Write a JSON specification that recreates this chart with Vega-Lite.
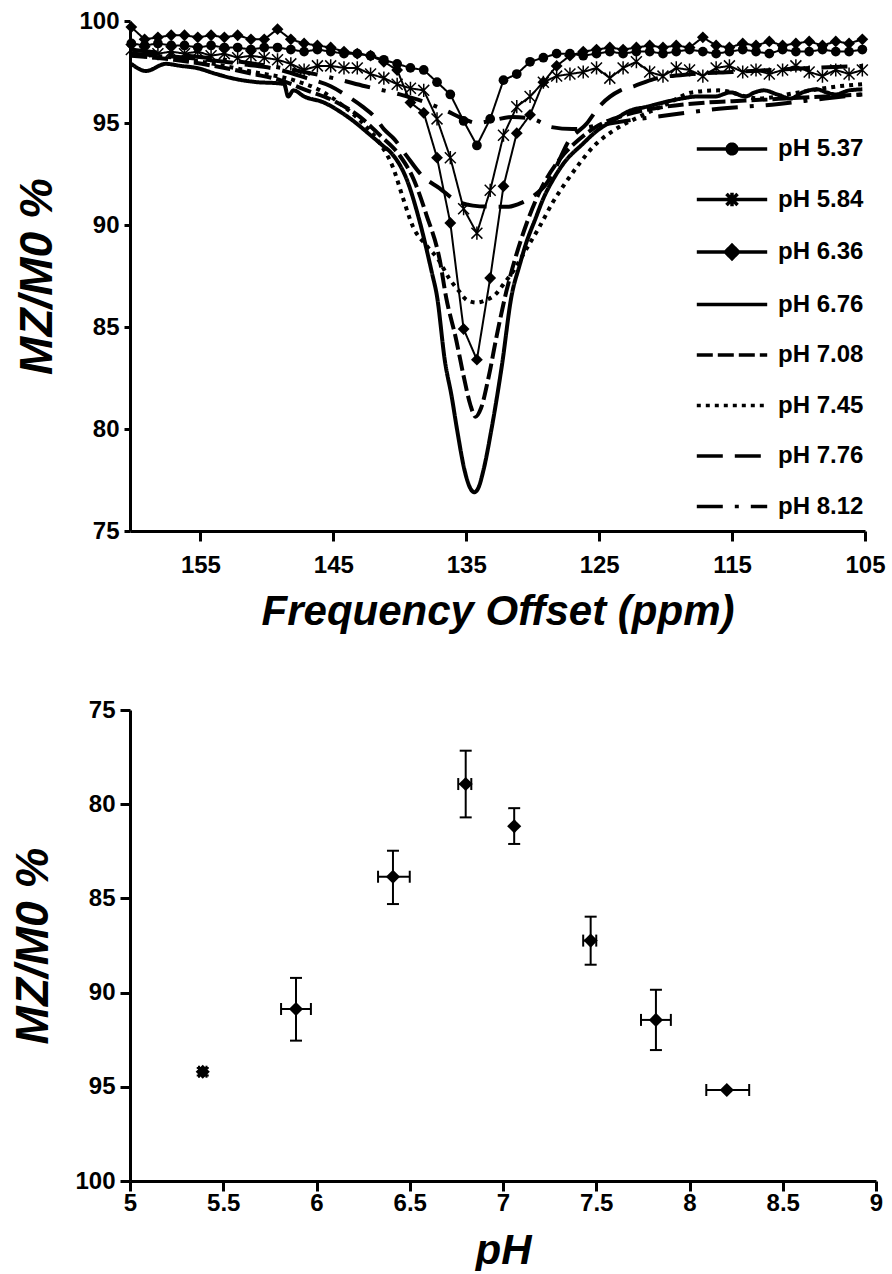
{
"$schema": "https://vega.github.io/schema/vega-lite/v6.json",
"padding": {"top": 9, "left": 10, "right": 0, "bottom": 0},
"spacing": 66,
"config": {
 "font": "Liberation Sans",
 "view": {"stroke": null},
 "axis": {"domainColor": "black", "domainWidth": 3, "tickColor": "black", "tickWidth": 3, "labelColor": "black", "labelFont": "Liberation Sans", "labelFontWeight": "bold", "titleColor": "black", "titleFont": "Liberation Sans", "titleFontWeight": "bold", "titleFontStyle": "italic", "grid": false, "labelFlush": false, "labelOverlap": false}
},
"datasets": {
 "spec": [
  {"s":"pH 5.37","p":160.2,"v":98.9},{"s":"pH 5.37","p":159.2,"v":98.8},{"s":"pH 5.37","p":158.2,"v":98.9},{"s":"pH 5.37","p":157.2,"v":98.8},{"s":"pH 5.37","p":156.2,"v":98.8},{"s":"pH 5.37","p":155.2,"v":98.7},{"s":"pH 5.37","p":154.2,"v":98.8},{"s":"pH 5.37","p":153.2,"v":98.7},{"s":"pH 5.37","p":152.2,"v":98.7},{"s":"pH 5.37","p":151.2,"v":98.6},{"s":"pH 5.37","p":150.2,"v":98.7},{"s":"pH 5.37","p":149.2,"v":98.7},{"s":"pH 5.37","p":148.2,"v":98.6},{"s":"pH 5.37","p":147.2,"v":98.5},{"s":"pH 5.37","p":146.2,"v":98.6},{"s":"pH 5.37","p":145.2,"v":98.5},{"s":"pH 5.37","p":144.2,"v":98.4},{"s":"pH 5.37","p":143.2,"v":98.4},{"s":"pH 5.37","p":142.2,"v":98.3},{"s":"pH 5.37","p":141.2,"v":98.1},{"s":"pH 5.37","p":140.2,"v":97.9},{"s":"pH 5.37","p":139.2,"v":97.7},{"s":"pH 5.37","p":138.2,"v":97.6},{"s":"pH 5.37","p":137.2,"v":97.0},{"s":"pH 5.37","p":136.2,"v":96.4},{"s":"pH 5.37","p":135.2,"v":95.1},{"s":"pH 5.37","p":134.2,"v":93.9},{"s":"pH 5.37","p":133.2,"v":95.2},{"s":"pH 5.37","p":132.2,"v":97.1},{"s":"pH 5.37","p":131.2,"v":97.4},{"s":"pH 5.37","p":130.2,"v":98.0},{"s":"pH 5.37","p":129.2,"v":98.2},{"s":"pH 5.37","p":128.2,"v":98.4},{"s":"pH 5.37","p":127.2,"v":98.4},{"s":"pH 5.37","p":126.2,"v":98.3},{"s":"pH 5.37","p":125.2,"v":98.4},{"s":"pH 5.37","p":124.2,"v":98.5},{"s":"pH 5.37","p":123.2,"v":98.4},{"s":"pH 5.37","p":122.2,"v":98.5},{"s":"pH 5.37","p":121.2,"v":98.5},{"s":"pH 5.37","p":120.2,"v":98.4},{"s":"pH 5.37","p":119.2,"v":98.5},{"s":"pH 5.37","p":118.2,"v":98.6},{"s":"pH 5.37","p":117.2,"v":98.5},{"s":"pH 5.37","p":116.2,"v":98.4},{"s":"pH 5.37","p":115.2,"v":98.5},{"s":"pH 5.37","p":114.2,"v":98.6},{"s":"pH 5.37","p":113.2,"v":98.5},{"s":"pH 5.37","p":112.2,"v":98.4},{"s":"pH 5.37","p":111.2,"v":98.6},{"s":"pH 5.37","p":110.2,"v":98.5},{"s":"pH 5.37","p":109.2,"v":98.5},{"s":"pH 5.37","p":108.2,"v":98.6},{"s":"pH 5.37","p":107.2,"v":98.5},{"s":"pH 5.37","p":106.2,"v":98.5},{"s":"pH 5.37","p":105.2,"v":98.6},
  {"s":"pH 5.84","p":160.2,"v":98.6},{"s":"pH 5.84","p":159.2,"v":98.5},{"s":"pH 5.84","p":158.2,"v":98.4},{"s":"pH 5.84","p":157.2,"v":98.5},{"s":"pH 5.84","p":156.2,"v":98.4},{"s":"pH 5.84","p":155.2,"v":98.5},{"s":"pH 5.84","p":154.2,"v":98.3},{"s":"pH 5.84","p":153.2,"v":98.4},{"s":"pH 5.84","p":152.2,"v":98.2},{"s":"pH 5.84","p":151.2,"v":98.3},{"s":"pH 5.84","p":150.2,"v":98.2},{"s":"pH 5.84","p":149.2,"v":98.1},{"s":"pH 5.84","p":148.2,"v":97.9},{"s":"pH 5.84","p":147.2,"v":97.6},{"s":"pH 5.84","p":146.2,"v":97.8},{"s":"pH 5.84","p":145.2,"v":97.8},{"s":"pH 5.84","p":144.2,"v":97.7},{"s":"pH 5.84","p":143.2,"v":97.7},{"s":"pH 5.84","p":142.2,"v":97.4},{"s":"pH 5.84","p":141.2,"v":97.2},{"s":"pH 5.84","p":140.2,"v":96.9},{"s":"pH 5.84","p":139.2,"v":96.7},{"s":"pH 5.84","p":138.2,"v":96.6},{"s":"pH 5.84","p":137.2,"v":95.2},{"s":"pH 5.84","p":136.2,"v":93.3},{"s":"pH 5.84","p":135.2,"v":90.8},{"s":"pH 5.84","p":134.2,"v":89.6},{"s":"pH 5.84","p":133.2,"v":91.7},{"s":"pH 5.84","p":132.2,"v":94.4},{"s":"pH 5.84","p":131.2,"v":95.8},{"s":"pH 5.84","p":130.2,"v":96.3},{"s":"pH 5.84","p":129.2,"v":97.0},{"s":"pH 5.84","p":128.2,"v":97.3},{"s":"pH 5.84","p":127.2,"v":97.4},{"s":"pH 5.84","p":126.2,"v":97.5},{"s":"pH 5.84","p":125.2,"v":97.7},{"s":"pH 5.84","p":124.2,"v":97.2},{"s":"pH 5.84","p":123.2,"v":97.7},{"s":"pH 5.84","p":122.2,"v":98.0},{"s":"pH 5.84","p":121.2,"v":97.5},{"s":"pH 5.84","p":120.2,"v":97.3},{"s":"pH 5.84","p":119.2,"v":97.7},{"s":"pH 5.84","p":118.2,"v":97.6},{"s":"pH 5.84","p":117.2,"v":97.3},{"s":"pH 5.84","p":116.2,"v":97.7},{"s":"pH 5.84","p":115.2,"v":97.8},{"s":"pH 5.84","p":114.2,"v":97.5},{"s":"pH 5.84","p":113.2,"v":97.6},{"s":"pH 5.84","p":112.2,"v":97.4},{"s":"pH 5.84","p":111.2,"v":97.6},{"s":"pH 5.84","p":110.2,"v":97.8},{"s":"pH 5.84","p":109.2,"v":97.5},{"s":"pH 5.84","p":108.2,"v":97.3},{"s":"pH 5.84","p":107.2,"v":97.6},{"s":"pH 5.84","p":106.2,"v":97.4},{"s":"pH 5.84","p":105.2,"v":97.6},
  {"s":"pH 6.36","p":160.2,"v":99.7},{"s":"pH 6.36","p":159.2,"v":99.1},{"s":"pH 6.36","p":158.2,"v":99.2},{"s":"pH 6.36","p":157.2,"v":99.3},{"s":"pH 6.36","p":156.2,"v":99.3},{"s":"pH 6.36","p":155.2,"v":99.2},{"s":"pH 6.36","p":154.2,"v":99.3},{"s":"pH 6.36","p":153.2,"v":99.2},{"s":"pH 6.36","p":152.2,"v":99.3},{"s":"pH 6.36","p":151.2,"v":99.1},{"s":"pH 6.36","p":150.2,"v":99.1},{"s":"pH 6.36","p":149.2,"v":99.6},{"s":"pH 6.36","p":148.2,"v":99.1},{"s":"pH 6.36","p":147.2,"v":98.9},{"s":"pH 6.36","p":146.2,"v":98.8},{"s":"pH 6.36","p":145.2,"v":98.7},{"s":"pH 6.36","p":144.2,"v":98.5},{"s":"pH 6.36","p":143.2,"v":98.4},{"s":"pH 6.36","p":142.2,"v":98.3},{"s":"pH 6.36","p":141.2,"v":98.0},{"s":"pH 6.36","p":140.2,"v":97.6},{"s":"pH 6.36","p":139.2,"v":96.0},{"s":"pH 6.36","p":138.2,"v":95.5},{"s":"pH 6.36","p":137.2,"v":93.3},{"s":"pH 6.36","p":136.2,"v":90.1},{"s":"pH 6.36","p":135.2,"v":84.9},{"s":"pH 6.36","p":134.2,"v":83.4},{"s":"pH 6.36","p":133.2,"v":87.4},{"s":"pH 6.36","p":132.2,"v":91.9},{"s":"pH 6.36","p":131.2,"v":94.5},{"s":"pH 6.36","p":130.2,"v":95.4},{"s":"pH 6.36","p":129.2,"v":97.0},{"s":"pH 6.36","p":128.2,"v":97.8},{"s":"pH 6.36","p":127.2,"v":98.3},{"s":"pH 6.36","p":126.2,"v":98.5},{"s":"pH 6.36","p":125.2,"v":98.6},{"s":"pH 6.36","p":124.2,"v":98.7},{"s":"pH 6.36","p":123.2,"v":98.6},{"s":"pH 6.36","p":122.2,"v":98.7},{"s":"pH 6.36","p":121.2,"v":98.8},{"s":"pH 6.36","p":120.2,"v":98.7},{"s":"pH 6.36","p":119.2,"v":98.8},{"s":"pH 6.36","p":118.2,"v":98.7},{"s":"pH 6.36","p":117.2,"v":99.2},{"s":"pH 6.36","p":116.2,"v":98.8},{"s":"pH 6.36","p":115.2,"v":98.7},{"s":"pH 6.36","p":114.2,"v":98.9},{"s":"pH 6.36","p":113.2,"v":98.8},{"s":"pH 6.36","p":112.2,"v":99.0},{"s":"pH 6.36","p":111.2,"v":98.8},{"s":"pH 6.36","p":110.2,"v":98.9},{"s":"pH 6.36","p":109.2,"v":99.0},{"s":"pH 6.36","p":108.2,"v":98.8},{"s":"pH 6.36","p":107.2,"v":99.0},{"s":"pH 6.36","p":106.2,"v":98.9},{"s":"pH 6.36","p":105.2,"v":99.1},
  {"s":"pH 6.76","p":160.2,"v":97.9},{"s":"pH 6.76","p":159.1,"v":97.55},{"s":"pH 6.76","p":157.6,"v":97.9},{"s":"pH 6.76","p":156.5,"v":97.8},{"s":"pH 6.76","p":155.3,"v":97.7},{"s":"pH 6.76","p":153.8,"v":97.4},{"s":"pH 6.76","p":152.3,"v":97.15},{"s":"pH 6.76","p":150.7,"v":97.0},{"s":"pH 6.76","p":149.2,"v":96.95},{"s":"pH 6.76","p":148.7,"v":96.9},{"s":"pH 6.76","p":148.4,"v":96.3},{"s":"pH 6.76","p":148.0,"v":96.6},{"s":"pH 6.76","p":147.2,"v":96.3},{"s":"pH 6.76","p":145.7,"v":96.0},{"s":"pH 6.76","p":144.6,"v":95.6},{"s":"pH 6.76","p":143.7,"v":95.2},{"s":"pH 6.76","p":142.2,"v":94.4},{"s":"pH 6.76","p":141.3,"v":93.9},{"s":"pH 6.76","p":140.6,"v":93.5},{"s":"pH 6.76","p":139.4,"v":92.1},{"s":"pH 6.76","p":138.6,"v":90.4},{"s":"pH 6.76","p":137.6,"v":87.7},{"s":"pH 6.76","p":137.2,"v":86.5},{"s":"pH 6.76","p":136.6,"v":83.3},{"s":"pH 6.76","p":136.1,"v":81.6},{"s":"pH 6.76","p":135.7,"v":80.0},{"s":"pH 6.76","p":135.1,"v":77.9},{"s":"pH 6.76","p":134.7,"v":77.1},{"s":"pH 6.76","p":134.4,"v":76.9},{"s":"pH 6.76","p":134.1,"v":77.1},{"s":"pH 6.76","p":133.7,"v":78.0},{"s":"pH 6.76","p":133.1,"v":80.0},{"s":"pH 6.76","p":132.3,"v":83.2},{"s":"pH 6.76","p":131.6,"v":86.5},{"s":"pH 6.76","p":131.0,"v":88.0},{"s":"pH 6.76","p":130.5,"v":89.1},{"s":"pH 6.76","p":129.8,"v":90.3},{"s":"pH 6.76","p":129.2,"v":91.3},{"s":"pH 6.76","p":128.4,"v":92.3},{"s":"pH 6.76","p":127.7,"v":93.0},{"s":"pH 6.76","p":126.2,"v":94.0},{"s":"pH 6.76","p":125.2,"v":94.6},{"s":"pH 6.76","p":124.0,"v":95.1},{"s":"pH 6.76","p":122.7,"v":95.6},{"s":"pH 6.76","p":121.4,"v":95.8},{"s":"pH 6.76","p":120.2,"v":96.0},{"s":"pH 6.76","p":118.8,"v":96.2},{"s":"pH 6.76","p":117.6,"v":96.3},{"s":"pH 6.76","p":116.3,"v":96.3},{"s":"pH 6.76","p":115.1,"v":96.5},{"s":"pH 6.76","p":114.0,"v":96.3},{"s":"pH 6.76","p":113.3,"v":96.5},{"s":"pH 6.76","p":112.6,"v":96.6},{"s":"pH 6.76","p":111.6,"v":96.4},{"s":"pH 6.76","p":110.6,"v":96.2},{"s":"pH 6.76","p":109.7,"v":96.5},{"s":"pH 6.76","p":108.6,"v":96.65},{"s":"pH 6.76","p":107.9,"v":96.5},{"s":"pH 6.76","p":107.2,"v":96.4},{"s":"pH 6.76","p":106.2,"v":96.6},{"s":"pH 6.76","p":105.2,"v":96.65},
  {"s":"pH 7.08","p":160.2,"v":98.3},{"s":"pH 7.08","p":157,"v":98.1},{"s":"pH 7.08","p":154,"v":97.8},{"s":"pH 7.08","p":151,"v":97.4},{"s":"pH 7.08","p":149,"v":97.1},{"s":"pH 7.08","p":147,"v":96.6},{"s":"pH 7.08","p":145,"v":96.1},{"s":"pH 7.08","p":143,"v":95.3},{"s":"pH 7.08","p":141.5,"v":94.4},{"s":"pH 7.08","p":140,"v":93.4},{"s":"pH 7.08","p":139,"v":92.3},{"s":"pH 7.08","p":138,"v":90.5},{"s":"pH 7.08","p":137,"v":88.3},{"s":"pH 7.08","p":136.5,"v":86.4},{"s":"pH 7.08","p":135.8,"v":84.5},{"s":"pH 7.08","p":135.2,"v":82.6},{"s":"pH 7.08","p":134.7,"v":81.2},{"s":"pH 7.08","p":134.3,"v":80.6},{"s":"pH 7.08","p":133.9,"v":81.0},{"s":"pH 7.08","p":133.3,"v":82.6},{"s":"pH 7.08","p":132.7,"v":84.6},{"s":"pH 7.08","p":132,"v":86.7},{"s":"pH 7.08","p":131.3,"v":88.4},{"s":"pH 7.08","p":130.5,"v":90.0},{"s":"pH 7.08","p":129.5,"v":91.6},{"s":"pH 7.08","p":128,"v":93.2},{"s":"pH 7.08","p":126.5,"v":94.2},{"s":"pH 7.08","p":125,"v":94.9},{"s":"pH 7.08","p":123,"v":95.4},{"s":"pH 7.08","p":120,"v":95.8},{"s":"pH 7.08","p":117,"v":96.0},{"s":"pH 7.08","p":114,"v":96.1},{"s":"pH 7.08","p":111,"v":96.2},{"s":"pH 7.08","p":108,"v":96.3},{"s":"pH 7.08","p":105.2,"v":96.4},
  {"s":"pH 7.45","p":160.2,"v":98.4},{"s":"pH 7.45","p":157,"v":98.2},{"s":"pH 7.45","p":154,"v":97.9},{"s":"pH 7.45","p":151,"v":97.5},{"s":"pH 7.45","p":148,"v":97.1},{"s":"pH 7.45","p":146,"v":96.6},{"s":"pH 7.45","p":144,"v":95.7},{"s":"pH 7.45","p":142.5,"v":94.8},{"s":"pH 7.45","p":141.5,"v":94.0},{"s":"pH 7.45","p":140.5,"v":92.8},{"s":"pH 7.45","p":139.8,"v":91.4},{"s":"pH 7.45","p":139,"v":89.9},{"s":"pH 7.45","p":138,"v":89.0},{"s":"pH 7.45","p":137.1,"v":88.3},{"s":"pH 7.45","p":136.3,"v":87.4},{"s":"pH 7.45","p":135.6,"v":86.8},{"s":"pH 7.45","p":134.9,"v":86.3},{"s":"pH 7.45","p":134.2,"v":86.2},{"s":"pH 7.45","p":133.6,"v":86.3},{"s":"pH 7.45","p":132.8,"v":86.6},{"s":"pH 7.45","p":132.2,"v":87.1},{"s":"pH 7.45","p":131.4,"v":87.8},{"s":"pH 7.45","p":130.5,"v":88.8},{"s":"pH 7.45","p":129.5,"v":89.9},{"s":"pH 7.45","p":128.5,"v":91.1},{"s":"pH 7.45","p":127.5,"v":92.1},{"s":"pH 7.45","p":126.5,"v":93.0},{"s":"pH 7.45","p":125.5,"v":93.8},{"s":"pH 7.45","p":124,"v":94.6},{"s":"pH 7.45","p":122,"v":95.3},{"s":"pH 7.45","p":120,"v":95.9},{"s":"pH 7.45","p":118,"v":96.5},{"s":"pH 7.45","p":116,"v":96.6},{"s":"pH 7.45","p":113,"v":96.2},{"s":"pH 7.45","p":110,"v":96.5},{"s":"pH 7.45","p":107,"v":96.8},{"s":"pH 7.45","p":105.2,"v":96.9},
  {"s":"pH 7.76","p":160.2,"v":98.4},{"s":"pH 7.76","p":156,"v":98.2},{"s":"pH 7.76","p":152,"v":97.9},{"s":"pH 7.76","p":149,"v":97.6},{"s":"pH 7.76","p":147,"v":97.2},{"s":"pH 7.76","p":145.2,"v":96.8},{"s":"pH 7.76","p":143.9,"v":96.3},{"s":"pH 7.76","p":142.8,"v":95.8},{"s":"pH 7.76","p":141.9,"v":95.3},{"s":"pH 7.76","p":141.2,"v":94.7},{"s":"pH 7.76","p":140.4,"v":94.2},{"s":"pH 7.76","p":139.5,"v":93.4},{"s":"pH 7.76","p":138.3,"v":92.4},{"s":"pH 7.76","p":137.0,"v":91.8},{"s":"pH 7.76","p":135.8,"v":91.2},{"s":"pH 7.76","p":134.5,"v":90.95},{"s":"pH 7.76","p":133.2,"v":90.9},{"s":"pH 7.76","p":131.8,"v":90.9},{"s":"pH 7.76","p":130.8,"v":91.1},{"s":"pH 7.76","p":130.0,"v":91.4},{"s":"pH 7.76","p":129.0,"v":92.0},{"s":"pH 7.76","p":128.2,"v":92.9},{"s":"pH 7.76","p":127.4,"v":94.0},{"s":"pH 7.76","p":125.9,"v":95.0},{"s":"pH 7.76","p":125.0,"v":95.8},{"s":"pH 7.76","p":123.4,"v":96.6},{"s":"pH 7.76","p":122.4,"v":96.8},{"s":"pH 7.76","p":120.9,"v":97.15},{"s":"pH 7.76","p":118,"v":97.4},{"s":"pH 7.76","p":115,"v":97.5},{"s":"pH 7.76","p":112,"v":97.6},{"s":"pH 7.76","p":109,"v":97.7},{"s":"pH 7.76","p":105.2,"v":97.8},
  {"s":"pH 8.12","p":160.2,"v":98.6},{"s":"pH 8.12","p":156,"v":98.3},{"s":"pH 8.12","p":152,"v":98.0},{"s":"pH 8.12","p":148,"v":97.6},{"s":"pH 8.12","p":145,"v":97.2},{"s":"pH 8.12","p":142.6,"v":96.8},{"s":"pH 8.12","p":140,"v":96.4},{"s":"pH 8.12","p":138,"v":96.0},{"s":"pH 8.12","p":136.5,"v":95.6},{"s":"pH 8.12","p":135.2,"v":95.2},{"s":"pH 8.12","p":134.2,"v":95.0},{"s":"pH 8.12","p":133.2,"v":95.1},{"s":"pH 8.12","p":131.5,"v":95.3},{"s":"pH 8.12","p":130,"v":95.2},{"s":"pH 8.12","p":128.6,"v":94.8},{"s":"pH 8.12","p":127,"v":94.7},{"s":"pH 8.12","p":125,"v":94.9},{"s":"pH 8.12","p":122,"v":95.2},{"s":"pH 8.12","p":119.6,"v":95.4},{"s":"pH 8.12","p":116,"v":95.7},{"s":"pH 8.12","p":112,"v":95.9},{"s":"pH 8.12","p":108,"v":96.2},{"s":"pH 8.12","p":105.2,"v":96.4}
 ],
 "ph": [
  {"ph":5.39,"m":94.2,"ylo":94.0,"yhi":94.4,"xlo":5.37,"xhi":5.41},
  {"ph":5.89,"m":90.87,"ylo":89.22,"yhi":92.55,"xlo":5.81,"xhi":5.97},
  {"ph":6.41,"m":83.85,"ylo":82.47,"yhi":85.3,"xlo":6.33,"xhi":6.5},
  {"ph":6.8,"m":78.93,"ylo":77.16,"yhi":80.7,"xlo":6.76,"xhi":6.83},
  {"ph":7.06,"m":81.17,"ylo":80.21,"yhi":82.11,"xlo":7.06,"xhi":7.06},
  {"ph":7.47,"m":87.24,"ylo":85.97,"yhi":88.52,"xlo":7.43,"xhi":7.5},
  {"ph":7.82,"m":91.45,"ylo":89.85,"yhi":93.05,"xlo":7.74,"xhi":7.9},
  {"ph":8.2,"m":95.17,"ylo":95.17,"yhi":95.17,"xlo":8.09,"xhi":8.32}
 ]
},
"vconcat": [
 {
  "width": 735, "height": 510,
  "data": {"name": "spec"},
  "encoding": {
   "x": {"field": "p", "type": "quantitative", "scale": {"domain": [160.3, 105], "nice": false, "zero": false}, "axis": {"values": [155,145,135,125,115,105], "tickSize": 10, "labelFontSize": 24, "labelPadding": 12, "title": "Frequency Offset (ppm)", "titleFontSize": 42, "titlePadding": 14}},
   "y": {"field": "v", "type": "quantitative", "scale": {"domain": [75, 100], "nice": false, "zero": false}, "axis": {"values": [75,80,85,90,95,100], "tickSize": 6, "labelFontSize": 24, "labelPadding": 5, "title": "MZ/M0 %", "titleFontSize": 46, "titlePadding": 17}}
  },
  "layer": [
   {
    "transform": [{"filter": "false"}],
    "mark": {"type": "point", "stroke": "black", "strokeWidth": 3.5, "opacity": 1},
    "encoding": {
     "shape": {"field": "s", "type": "nominal",
      "scale": {"domain": ["pH 5.37","pH 5.84","pH 6.36","pH 6.76","pH 7.08","pH 7.45","pH 7.76","pH 8.12"], "range": ["M-2.2,0H2.2M0.3,0A0.3,0.3,0,1,1,-0.3,0A0.3,0.3,0,1,1,0.3,0Z", "M-2.2,0H2.2M-0.35,-0.35L0.35,0.35M-0.35,0.35L0.35,-0.35M0,-0.42V0.42", "M-2.2,0H2.2M0,-0.42L0.42,0L0,0.42L-0.42,0Z", "M-2.2,0H2.2", "M-2.2,0H2.2", "M-2.2,0H2.2", "M-2.2,0H2.2", "M-2.2,0H2.2"]},
      "legend": {"title": null, "orient": "none", "legendX": 584, "legendY": 110, "symbolSize": 1024, "rowPadding": 20.5, "labelOffset": 28, "labelFont": "Liberation Sans", "labelFontWeight": "bold", "labelFontSize": 24, "labelColor": "black", "labelLimit": 0, "padding": 0, "symbolStrokeWidth": 3.5, "symbolOpacity": 1}},
     "fill": {"field": "s", "type": "nominal",
      "scale": {"domain": ["pH 5.37","pH 5.84","pH 6.36","pH 6.76","pH 7.08","pH 7.45","pH 7.76","pH 8.12"], "range": ["black","transparent","black","transparent","transparent","transparent","transparent","transparent"]},
      "legend": {"title": null, "orient": "none", "legendX": 584, "legendY": 110, "symbolSize": 1024, "rowPadding": 20.5, "labelOffset": 28, "labelFont": "Liberation Sans", "labelFontWeight": "bold", "labelFontSize": 24, "labelColor": "black", "labelLimit": 0, "padding": 0, "symbolStrokeWidth": 3.5, "symbolOpacity": 1}},
     "stroke": {"field": "s", "type": "nominal",
      "scale": {"domain": ["pH 5.37","pH 5.84","pH 6.36","pH 6.76","pH 7.08","pH 7.45","pH 7.76","pH 8.12"], "range": ["black","black","black","black","black","black","black","black"]},
      "legend": {"title": null, "orient": "none", "legendX": 584, "legendY": 110, "symbolSize": 1024, "rowPadding": 20.5, "labelOffset": 28, "labelFont": "Liberation Sans", "labelFontWeight": "bold", "labelFontSize": 24, "labelColor": "black", "labelLimit": 0, "padding": 0, "symbolStrokeWidth": 3.5, "symbolOpacity": 1}},
     "strokeDash": {"field": "s", "type": "nominal",
      "scale": {"domain": ["pH 5.37","pH 5.84","pH 6.36","pH 6.76","pH 7.08","pH 7.45","pH 7.76","pH 8.12"], "range": [[1,0],[1,0],[1,0],[1,0],[16,5],[4,5],[26,12],[26,12,4,12]]},
      "legend": {"title": null, "orient": "none", "legendX": 584, "legendY": 110, "symbolSize": 1024, "rowPadding": 20.5, "labelOffset": 28, "labelFont": "Liberation Sans", "labelFontWeight": "bold", "labelFontSize": 24, "labelColor": "black", "labelLimit": 0, "padding": 0, "symbolStrokeWidth": 3.5, "symbolOpacity": 1}}
    }
   },
   {
    "transform": [{"filter": "indexof(['pH 5.37','pH 5.84','pH 6.36'], datum.s) >= 0"}],
    "mark": {"type": "line", "color": "black", "strokeWidth": 2},
    "encoding": {
     "strokeDash": {"field": "s", "type": "nominal",
      "scale": {"domain": ["pH 5.37","pH 5.84","pH 6.36","pH 6.76","pH 7.08","pH 7.45","pH 7.76","pH 8.12"], "range": [[1,0],[1,0],[1,0],[1,0],[16,5],[4,5],[26,12],[26,12,4,12]]},
      "legend": {"title": null, "orient": "none", "legendX": 584, "legendY": 110, "symbolSize": 1024, "rowPadding": 20.5, "labelOffset": 28, "labelFont": "Liberation Sans", "labelFontWeight": "bold", "labelFontSize": 24, "labelColor": "black", "labelLimit": 0, "padding": 0, "symbolStrokeWidth": 3.5, "symbolOpacity": 1}}
    }
   },
   {
    "transform": [{"filter": "indexof(['pH 5.37','pH 5.84','pH 6.36'], datum.s) < 0"}],
    "mark": {"type": "line", "color": "black", "strokeWidth": 4, "interpolate": "monotone"},
    "encoding": {
     "strokeDash": {"field": "s", "type": "nominal",
      "scale": {"domain": ["pH 5.37","pH 5.84","pH 6.36","pH 6.76","pH 7.08","pH 7.45","pH 7.76","pH 8.12"], "range": [[1,0],[1,0],[1,0],[1,0],[16,5],[4,5],[26,12],[26,12,4,12]]},
      "legend": {"title": null, "orient": "none", "legendX": 584, "legendY": 110, "symbolSize": 1024, "rowPadding": 20.5, "labelOffset": 28, "labelFont": "Liberation Sans", "labelFontWeight": "bold", "labelFontSize": 24, "labelColor": "black", "labelLimit": 0, "padding": 0, "symbolStrokeWidth": 3.5, "symbolOpacity": 1}}
    }
   },
   {
    "transform": [{"filter": "datum.s === 'pH 5.37'"}],
    "mark": {"type": "point", "shape": "circle", "filled": true, "color": "black", "size": 95, "opacity": 1}
   },
   {
    "transform": [{"filter": "datum.s === 'pH 5.84'"}],
    "mark": {"type": "point", "shape": "M-1,-1L1,1M-1,1L1,-1M0,-1.2V1.2", "filled": false, "color": "black", "strokeWidth": 1.5, "size": 120, "opacity": 1}
   },
   {
    "transform": [{"filter": "datum.s === 'pH 6.36'"}],
    "mark": {"type": "point", "shape": "diamond", "filled": true, "color": "black", "size": 140, "opacity": 1}
   }
  ]
 },
 {
  "width": 746, "height": 471,
  "data": {"name": "ph"},
  "layer": [
   {
    "mark": {"type": "rule", "color": "black", "strokeWidth": 2},
    "encoding": {
     "x": {"field": "ph", "type": "quantitative", "scale": {"domain": [5, 9], "nice": false, "zero": false}, "axis": {"values": [5,5.5,6,6.5,7,7.5,8,8.5,9], "format": "~g", "tickSize": 10, "labelFontSize": 24, "labelPadding": 0, "title": "pH", "titleFontSize": 42, "titlePadding": 15}},
     "y": {"field": "ylo", "type": "quantitative", "scale": {"domain": [75, 100], "reverse": true, "nice": false, "zero": false}, "axis": {"values": [75,80,85,90,95,100], "tickSize": 10, "labelFontSize": 24, "labelPadding": 5, "title": "MZ/M0 %", "titleFontSize": 46, "titlePadding": 17}},
     "y2": {"field": "yhi"}
    }
   },
   {
    "mark": {"type": "rule", "color": "black", "strokeWidth": 2},
    "encoding": {"x": {"field": "xlo", "type": "quantitative"}, "x2": {"field": "xhi"}, "y": {"field": "m", "type": "quantitative"}}
   },
   {
    "mark": {"type": "tick", "orient": "horizontal", "color": "black", "size": 12, "thickness": 2, "opacity": 1},
    "encoding": {"x": {"field": "ph", "type": "quantitative"}, "y": {"field": "ylo", "type": "quantitative"}}
   },
   {
    "mark": {"type": "tick", "orient": "horizontal", "color": "black", "size": 12, "thickness": 2, "opacity": 1},
    "encoding": {"x": {"field": "ph", "type": "quantitative"}, "y": {"field": "yhi", "type": "quantitative"}}
   },
   {
    "mark": {"type": "tick", "orient": "vertical", "color": "black", "size": 12, "thickness": 2, "opacity": 1},
    "encoding": {"x": {"field": "xlo", "type": "quantitative"}, "y": {"field": "m", "type": "quantitative"}}
   },
   {
    "mark": {"type": "tick", "orient": "vertical", "color": "black", "size": 12, "thickness": 2, "opacity": 1},
    "encoding": {"x": {"field": "xhi", "type": "quantitative"}, "y": {"field": "m", "type": "quantitative"}}
   },
   {
    "mark": {"type": "point", "shape": "diamond", "filled": true, "color": "black", "size": 200, "opacity": 1},
    "encoding": {"x": {"field": "ph", "type": "quantitative"}, "y": {"field": "m", "type": "quantitative"}}
   }
  ]
 }
]
}
